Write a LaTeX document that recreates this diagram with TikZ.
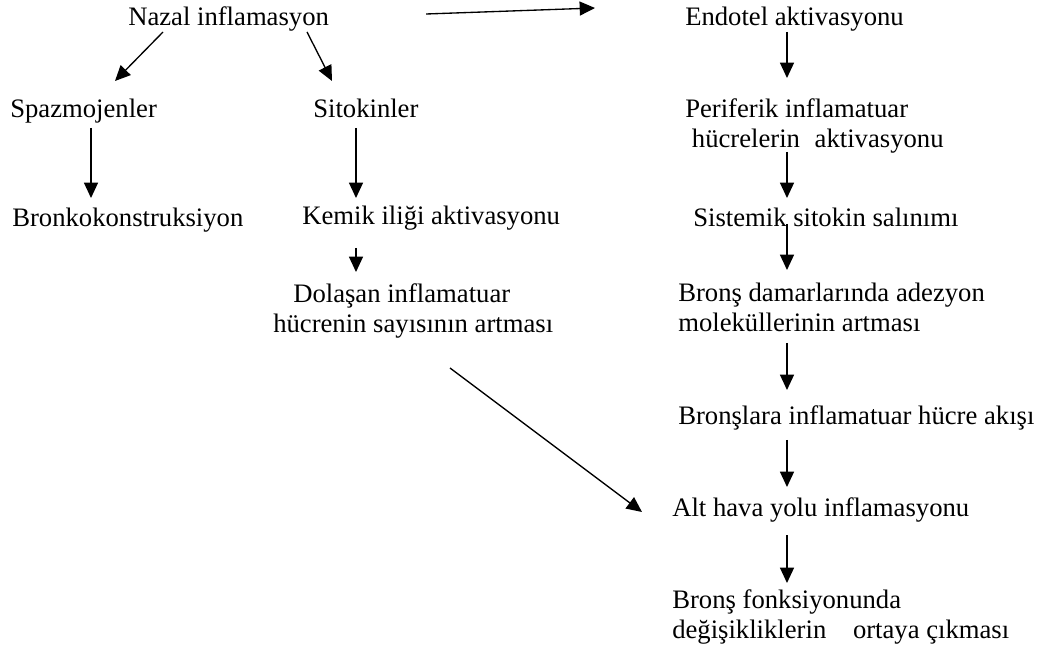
\documentclass[tikz,border=0pt]{standalone}
\usepackage{fontspec}
\setmainfont{Liberation Serif}
\usetikzlibrary{arrows.meta,calc}

\begin{document}
\begin{tikzpicture}[x=0.75pt, y=-0.75pt,
    lbl/.style={anchor=base west, inner sep=0pt, align=left, font=\fontsize{20}{22.5}\selectfont},
    arr/.style={-{Triangle[length=11.5pt,width=10.5pt]}, line width=1pt}]
\useasboundingbox (0,0) rectangle (1040,652);

% left and middle columns
\node[lbl] (nazal) at (128,26) {Nazal inflamasyon};
\node[lbl] (spaz) at (10,118) {Spazmojenler};
\node[lbl] (sito) at (313,118) {Sitokinler};
\node[lbl] (bronko) at (12,227) {Bronkokonstruksiyon};
\node[lbl] (kemik) at (302,225) {Kemik iliği aktivasyonu};
\node[lbl] (dolasan) at (273,333) {\hspace*{15pt}Dolaşan inflamatuar\\hücrenin sayısının artması};

% right column
\node[lbl] (endotel) at (685,26) {Endotel aktivasyonu};
\node[lbl] (periferik) at (685,148) {Periferik inflamatuar\\\hspace*{5pt}hücrelerin\hspace{6pt} aktivasyonu};
\node[lbl] (sistemik) at (693,227) {Sistemik sitokin salınımı};
\node[lbl] (damar) at (678,332) {Bronş damarlarında adezyon\\moleküllerinin artması};
\node[lbl] (akis) at (678,425) {Bronşlara inflamatuar hücre akışı};
\node[lbl] (alt) at (672,517) {Alt hava yolu inflamasyonu};
\node[lbl] (fonk) at (672,638) {Bronş fonksiyonunda\\değişikliklerin\hspace{15pt} ortaya çıkması};

% arrow columns
\coordinate (colA) at (91,0);
\coordinate (colB) at (356,0);
\coordinate (colR) at (787,0);

\draw[arr] ($(nazal.base west)+(35,6)$) -- ($(spaz.base west)+(105,-37)$);
\draw[arr] ($(nazal.base west)+(179,6)$) -- ($(sito.base west)+(19,-37)$);
\draw[arr] ($(nazal.base east)+(97,-12)$) -- ($(endotel.base west)+(-90,-18)$);
\draw[arr] ($(spaz.base -| colA)+(0,10)$) -- ($(bronko.base -| colA)+(0,-29)$);
\draw[arr] ($(sito.base -| colB)+(0,10)$) -- ($(kemik.base -| colB)+(0,-27)$);
\draw[arr] ($(kemik.base -| colB)+(0,23)$) -- ($(dolasan.base -| colB)+(0,-61)$);
\draw[arr] ($(endotel.base -| colR)+(0,6)$) -- ($(periferik.base -| colR)+(0,-70)$);
\draw[arr] ($(periferik.base -| colR)+(0,4)$) -- ($(sistemik.base -| colR)+(0,-29)$);
\draw[arr] ($(sistemik.base -| colR)+(0,-3)$) -- ($(damar.base -| colR)+(0,-62)$);
\draw[arr] ($(damar.base -| colR)+(0,11)$) -- ($(akis.base -| colR)+(0,-35)$);
\draw[arr] ($(akis.base -| colR)+(0,15)$) -- ($(alt.base -| colR)+(0,-30)$);
\draw[arr] ($(alt.base -| colR)+(0,18)$) -- ($(fonk.base -| colR)+(0,-55)$);
\draw[arr] ($(dolasan.base west)+(177,35)$) -- ($(alt.base west)+(-30,-5)$);
\end{tikzpicture}
\end{document}
